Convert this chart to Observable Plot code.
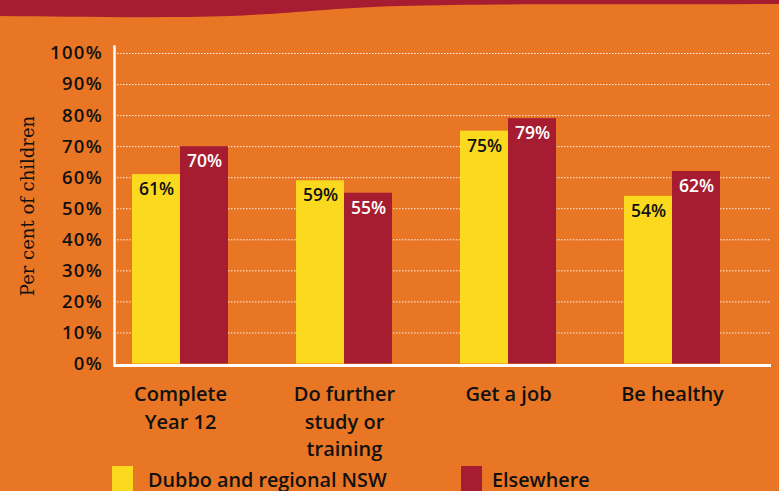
<!DOCTYPE html>
<html>
<head>
<meta charset="utf-8">
<script src="https://cdn.jsdelivr.net/npm/d3@7"></script>
<script src="https://cdn.jsdelivr.net/npm/@observablehq/plot@0.6"></script>
<style>
  html, body { margin: 0; padding: 0; background: #E87624; overflow: hidden; }
  body { width: 779px; height: 491px; position: relative; font-family: "Open Sans", sans-serif; }
  #wave { position: absolute; left: 0; top: 0; }
  #chart { position: absolute; left: 0; top: 0; }
  #legend { position: absolute; left: 0; top: 466px; width: 779px; height: 30px; }
  .sw { position: absolute; top: 0; width: 21px; height: 30px; }
  .lt { position: absolute; top: -1px; font-size: 19.8px; font-weight: 600; color: #111; white-space: nowrap; line-height: 30px; }
  .yticks text { letter-spacing: 1.3px; }
</style>
</head>
<body>
<svg id="wave" width="779" height="24" viewBox="0 0 779 24">
  <path d="M0,0 H779 V4 C640,5 500,3 400,6 C330,8 300,13 230,16 C170,18 80,17 0,16 Z" fill="#A61C31"/>
</svg>
<div id="chart"></div>
<div id="legend">
  <div class="sw" style="left:112px;background:#FBD91F"></div>
  <div class="lt" style="left:148px">Dubbo and regional NSW</div>
  <div class="sw" style="left:461px;background:#A61C31"></div>
  <div class="lt" style="left:492px">Elsewhere</div>
</div>
<script>
const categories = ["Complete Year 12", "Do further study or training", "Get a job", "Be healthy"];
const categoryLabels = ["Complete\nYear 12", "Do further\nstudy or\ntraining", "Get a job", "Be healthy"];
const dubbo = [61, 59, 75, 54];
const elsewhere = [70, 55, 79, 62];
const yTicks = [0, 10, 20, 30, 40, 50, 60, 70, 80, 90, 100];
const yTitle = "Per cent of children";

const YELLOW = "#FBD91F", MAROON = "#A61C31";
const dataA = categories.map((c, i) => ({category: c, value: dubbo[i]}));
const dataB = categories.map((c, i) => ({category: c, value: elsewhere[i]}));
const labelOf = new Map(categories.map((c, i) => [c, categoryLabels[i]]));
const FONT = "Open Sans, sans-serif";

const chart = Plot.plot({
  width: 779,
  height: 462,
  marginLeft: 114,
  marginRight: 8,
  marginTop: 46,
  marginBottom: 97,
  style: {background: "transparent", fontFamily: FONT, color: "#111", overflow: "visible"},
  x: {domain: categories, paddingInner: 0.4158, paddingOuter: 0.2069, align: 0.265, axis: null},
  y: {domain: [0, 100], range: [363.5, 53], axis: null},
  marks: [
    Plot.ruleY(yTicks.filter(d => d > 0), {stroke: "white", strokeWidth: 1, strokeDasharray: "1.5,1.5", strokeOpacity: 0.9}),
    Plot.barY(dataA, {x: "category", y: "value", fill: YELLOW, insetRight: 48}),
    Plot.barY(dataB, {x: "category", y: "value", fill: MAROON, insetLeft: 48}),
    Plot.text(dataA, {x: "category", y: "value", text: d => d.value + "%", dx: -24, dy: 15, fill: "#111", fontSize: 17.5, fontWeight: 600}),
    Plot.text(dataB, {x: "category", y: "value", text: d => d.value + "%", dx: 24, dy: 15, fill: "white", fontSize: 17.5, fontWeight: 600}),
    Plot.ruleY([0], {stroke: "white", strokeWidth: 3, dy: 1.5}),
    Plot.frame({anchor: "left", stroke: "white", strokeWidth: 2.5}),
    Plot.axisY(yTicks, {className: "yticks", tickSize: 0, tickPadding: 11.5, tickFormat: d => d + "%", fontSize: 18.5, fontWeight: 600, fill: "#111", label: null}),
    Plot.axisX({anchor: "bottom", tickSize: 0, tickPadding: 16, tickFormat: d => labelOf.get(d), fontSize: 20, fontWeight: 600, lineHeight: 1.38, fill: "#111", label: null}),
    Plot.text([yTitle], {frameAnchor: "left", rotate: -90, dx: -86, textAnchor: "middle", fontFamily: "DejaVu Serif, serif", fontSize: 18, fill: "#111"})
  ]
});
document.getElementById("chart").appendChild(chart);
</script>
</body>
</html>
